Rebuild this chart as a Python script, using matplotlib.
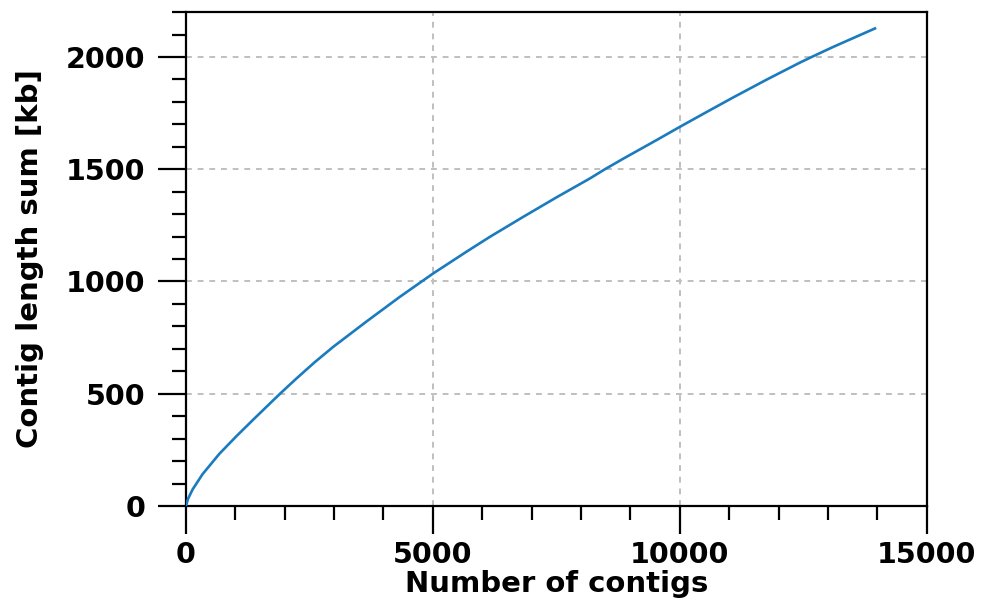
import matplotlib
matplotlib.use("Agg")
import matplotlib.pyplot as plt
from matplotlib.ticker import MultipleLocator

# Data
n_contigs = [0, 40, 135, 337, 675, 1013, 1350, 1688, 1924, 2228, 2600, 2983,
             3658, 4334, 5008, 5684, 6156, 6831, 7506, 8181, 8485, 8856,
             9532, 10004, 10611, 11084, 11759, 12434, 12671, 13109, 13953]
length_sum = [0, 31, 74, 142, 232, 309, 382, 454, 504, 566, 639, 709,
              822, 932, 1036, 1133, 1199, 1288, 1375, 1459, 1500, 1547,
              1630, 1689, 1763, 1820, 1899, 1975, 2000, 2045, 2127]

x_ticks = [0, 5000, 10000, 15000]
y_ticks = [0, 500, 1000, 1500, 2000]

plt.rcParams['font.family'] = ['DejaVu Sans']
plt.rcParams['font.weight'] = 'bold'

fig = plt.figure(figsize=(9.85, 6.03), dpi=100)
ax = fig.add_axes([0.1888, 0.1609, 0.752, 0.8191])

ax.plot(n_contigs, length_sum, color='#1a7bbf', linewidth=1.9, zorder=3,
        solid_joinstyle='round')

ax.set_xlim(0, 15000)
ax.set_ylim(0, 2200)
ax.set_xticks(x_ticks)
ax.set_yticks(y_ticks)
ax.xaxis.set_minor_locator(MultipleLocator(1000))
ax.yaxis.set_minor_locator(MultipleLocator(100))

ax.grid(True, which='major', color='#bfbfbf', linestyle=(0, (3, 3)), linewidth=1.4, zorder=0)

for s in ax.spines.values():
    s.set_linewidth(1.6)
    s.set_color('black')

ax.tick_params(which='major', direction='out', length=20, width=1.6, labelsize=20.5)
ax.tick_params(which='minor', direction='out', length=10, width=1.6)
ax.tick_params(axis='x', which='major', pad=5)
ax.tick_params(axis='y', which='major', pad=9)
ax.tick_params(top=False, right=False, which='both')

for lab in ax.get_xticklabels() + ax.get_yticklabels():
    lab.set_fontweight('bold')

ax.set_xlabel('Number of contigs', fontsize=21, fontweight='bold', va='baseline')
ax.xaxis.set_label_coords(0.5, -0.174)
ax.set_ylabel('Contig length sum [kb]', fontsize=21, fontweight='bold')
ax.yaxis.set_label_coords(-0.192, 0.5)

fig.savefig('out.png', dpi=100)
